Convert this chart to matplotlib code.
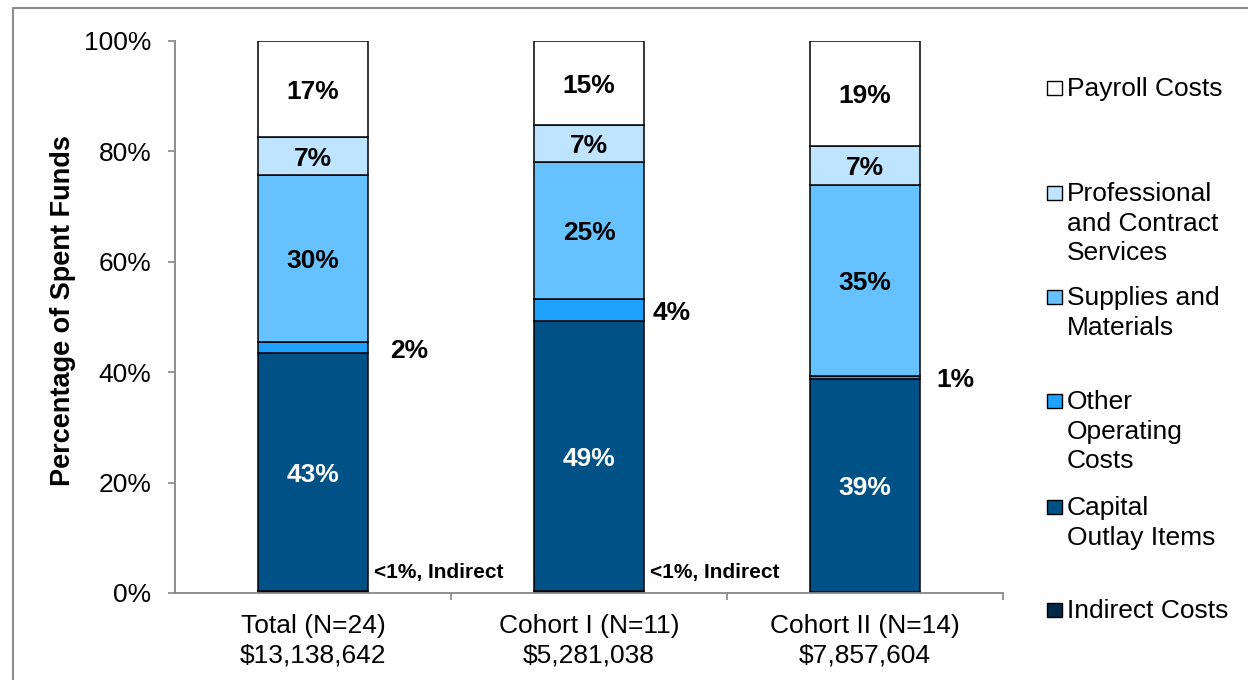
import numpy as np
import matplotlib
matplotlib.use('Agg')
import matplotlib.pyplot as plt
from matplotlib.patches import Rectangle

plt.rcParams['font.family'] = ['Liberation Sans', 'DejaVu Sans']

groups = ['Total (N=24)\n$13,138,642', 'Cohort I (N=11)\n$5,281,038', 'Cohort II (N=14)\n$7,857,604']
# shares of spent funds, bottom to top
indirect = [0.3, 0.3, 0.2]
capital = [43.2, 49.0, 38.6]
other_op = [2.0, 4.0, 0.6]
supplies = [30.2, 24.8, 34.6]
professional = [6.9, 6.7, 6.9]
payroll = [17.4, 15.2, 19.1]

series = [indirect, capital, other_op, supplies, professional, payroll]
names = ['Indirect Costs', 'Capital\nOutlay Items', 'Other\nOperating\nCosts',
         'Supplies and\nMaterials', 'Professional\nand Contract\nServices', 'Payroll Costs']
colors = ['#022a48', '#005185', '#1fa2ff', '#66c2ff', '#bfe4ff', '#ffffff']

W, H = 1248, 680
FS = 19
fig = plt.figure(figsize=(W/100, H/100), dpi=100)
ax = fig.add_axes([175/W, 1-593/H, 828/W, 552/H])

def px(x, y):
    return x/W, 1-y/H

x = np.arange(len(groups))
bw = 0.40
bottom = np.zeros(len(groups))
for vals, c in zip(series, colors):
    ax.bar(x, vals, bw, bottom=bottom, color=c, edgecolor='black', lw=1.1, zorder=2)
    bottom += np.array(vals)

# labels inside the bars
bottom = np.array(indirect)
for k, (vals, tc) in enumerate(zip(series[1:], ['white', 'black', 'black', 'black', 'black'])):
    for i, v in enumerate(vals):
        if k == 1:
            bottom[i] += v
            continue
        ax.text(x[i], bottom[i] + v/2 - 0.5, f'{round(v)}%', ha='center', va='center',
                color=tc, fontsize=FS, fontweight='bold', zorder=3)
        bottom[i] += v

# small "other operating" shares labelled beside the bar
side_off = [0.08, 0.03, 0.06]
for i, v in enumerate(other_op):
    y = indirect[i] + capital[i] + v/2
    ax.text(x[i] + bw/2 + side_off[i], y - 0.6, f'{round(v)}%', ha='left', va='center',
            fontsize=FS, fontweight='bold')
for i in range(2):
    ax.text(x[i] + bw/2 + 0.022, 3.8, '<1%, Indirect', ha='left', va='center',
            fontsize=15, fontweight='bold')

ax.set_xlim(-0.5, 2.5)
ax.set_ylim(0, 100)
ax.set_yticks(range(0, 101, 20))
ax.set_yticklabels([f'{t}%' for t in range(0, 101, 20)])
ax.set_xticks(x)
ax.set_xticklabels(groups, fontsize=FS, linespacing=1.3)
ax.set_xticks([0.5, 1.5, 2.5], minor=True)
ax.tick_params(axis='x', which='major', length=0, pad=15)
ax.tick_params(axis='x', which='minor', length=5, width=1.2, color='#868686', direction='out')
ax.tick_params(axis='y', length=5, width=1.2, color='#868686', pad=12, labelsize=FS)
for s in ['top', 'right']:
    ax.spines[s].set_visible(False)
for s in ['left', 'bottom']:
    ax.spines[s].set_color('#868686')
    ax.spines[s].set_linewidth(1.3)

fig.text(*px(63, 311), 'Percentage of Spent Funds', rotation=90, ha='center', va='center',
         fontsize=19.5, fontweight='bold')

# legend, top entry first
leg_y = [88, 193, 297, 401, 507, 610]
for name, c, yy in zip(names[::-1], colors[::-1], leg_y):
    fig.patches.append(Rectangle(px(1047, yy + 7), 15/W, 14/H, transform=fig.transFigure,
                                 facecolor=c, edgecolor='black', lw=1.0))
    fig.text(*px(1067, yy - 11), name, ha='left', va='top', fontsize=FS, linespacing=1.3)

# outer chart frame
fig.patches.append(Rectangle(px(13, 690), 1250/W, 682/H, transform=fig.transFigure,
                             facecolor='none', edgecolor='#8c8c8c', lw=1.5))

fig.savefig('out.png', dpi=100)
